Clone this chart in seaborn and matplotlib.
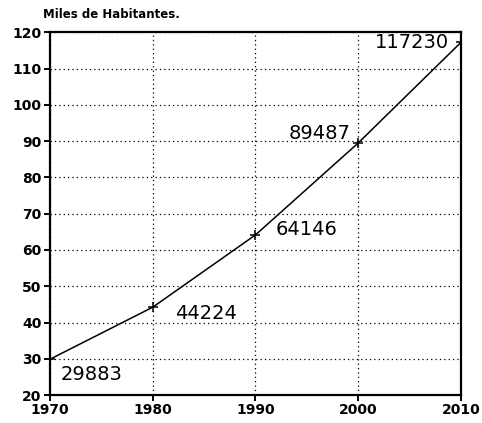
import matplotlib
matplotlib.use("Agg")
import matplotlib.pyplot as plt
import seaborn as sns
import pandas as pd

years = [1970, 1980, 1990, 2000, 2010]
habitantes = [29883, 44224, 64146, 89487, 117230]
x_ticks = [1970, 1980, 1990, 2000, 2010]
y_ticks = [20, 30, 40, 50, 60, 70, 80, 90, 100, 110, 120]
title = "Miles de Habitantes."

df = pd.DataFrame({"year": years, "miles": [v / 1000 for v in habitantes]})

sns.set_style("ticks")
plt.rcParams['font.family'] = ['DejaVu Sans']
plt.rcParams['text.color'] = 'black'

fig = plt.figure(figsize=(4.82, 4.23), dpi=100)
ax = fig.add_axes([0.1037, 0.066, 0.8527, 0.8577])

sns.lineplot(data=df, x="year", y="miles", ax=ax, color="black", linewidth=1.1,
             marker="+", markersize=7, markeredgewidth=1.1, markeredgecolor="black")

ax.set_xlim(1970, 2010)
ax.set_ylim(20, 120)
ax.set_xticks(x_ticks)
ax.set_yticks(y_ticks)
ax.set_xticklabels([str(t) for t in x_ticks], fontweight="bold", fontsize=10)
ax.set_yticklabels([str(t) for t in y_ticks], fontweight="bold", fontsize=10)
ax.set_xlabel("")
ax.set_ylabel("")
ax.grid(True, color="black", linestyle=(0, (1, 2.5)), linewidth=0.9)
for s in ax.spines.values():
    s.set_linewidth(1.6)
    s.set_color("black")
ax.tick_params(axis="both", length=4, width=1.4, color="black", pad=2, labelcolor="black")

offsets = [(11, -15, "left"), (22, -6, "left"), (20, 5, "left"), (-8, 9, "right"), (-12, 0, "right")]
for yr, v, (dx, dy, ha) in zip(years, habitantes, offsets):
    ax.annotate(str(v), (yr, v / 1000), xytext=(dx, dy), textcoords="offset pixels",
                ha=ha, va="center", fontsize=14, color="black")

fig.text(43 / 482, 1 - 14 / 423, title, fontsize=8.5, fontweight="heavy", ha="left",
         va="center", color="black")

fig.savefig("out.png", dpi=100)
